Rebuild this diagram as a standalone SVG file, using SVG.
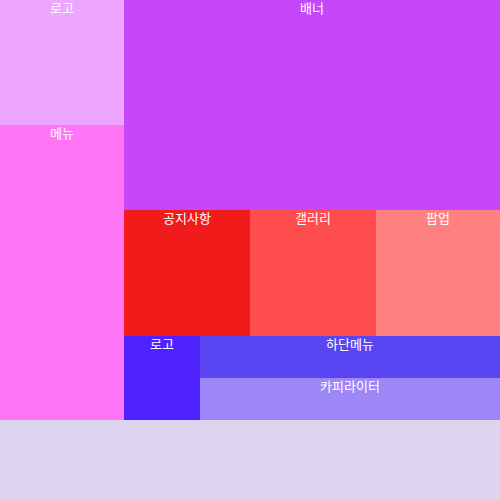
<svg xmlns="http://www.w3.org/2000/svg" width="500" height="500" viewBox="0 0 500 500">
<style>
text{font-family:"Noto Sans CJK KR","Noto Sans",sans-serif;font-size:13px;fill:#ffffff;text-anchor:middle}
rect{stroke:none}
</style>
<g id="logo"><rect x="0" y="0" width="124" height="125" fill="#eca6fd"/><text x="62" y="13">로고</text></g>
<g id="menu"><rect x="0" y="125" width="124" height="295" fill="#ff75f6"/><text x="62" y="138">메뉴</text></g>
<g id="banner"><rect x="124" y="0" width="376" height="210" fill="#c646f9"/><text x="312" y="13">배너</text></g>
<g id="notice"><rect x="124" y="210" width="126" height="126" fill="#f21b1b"/><text x="187" y="223">공지사항</text></g>
<g id="gallery"><rect x="250" y="210" width="126" height="126" fill="#ff4d4d"/><text x="313" y="223">갤러리</text></g>
<g id="popup"><rect x="376" y="210" width="124" height="126" fill="#ff8080"/><text x="438" y="223">팝업</text></g>
<g id="logo2"><rect x="124" y="336" width="76" height="84" fill="#5022ff"/><text x="162" y="349">로고</text></g>
<g id="footmenu"><rect x="200" y="336" width="300" height="42" fill="#5946f2"/><text x="350" y="349">하단메뉴</text></g>
<g id="copyright"><rect x="200" y="378" width="300" height="42" fill="#9d86f5"/><text x="350" y="391">카피라이터</text></g>
<g id="footer"><rect x="0" y="420" width="500" height="80" fill="#ddd5f0"/></g>
<g id="connectors"/>
</svg>
